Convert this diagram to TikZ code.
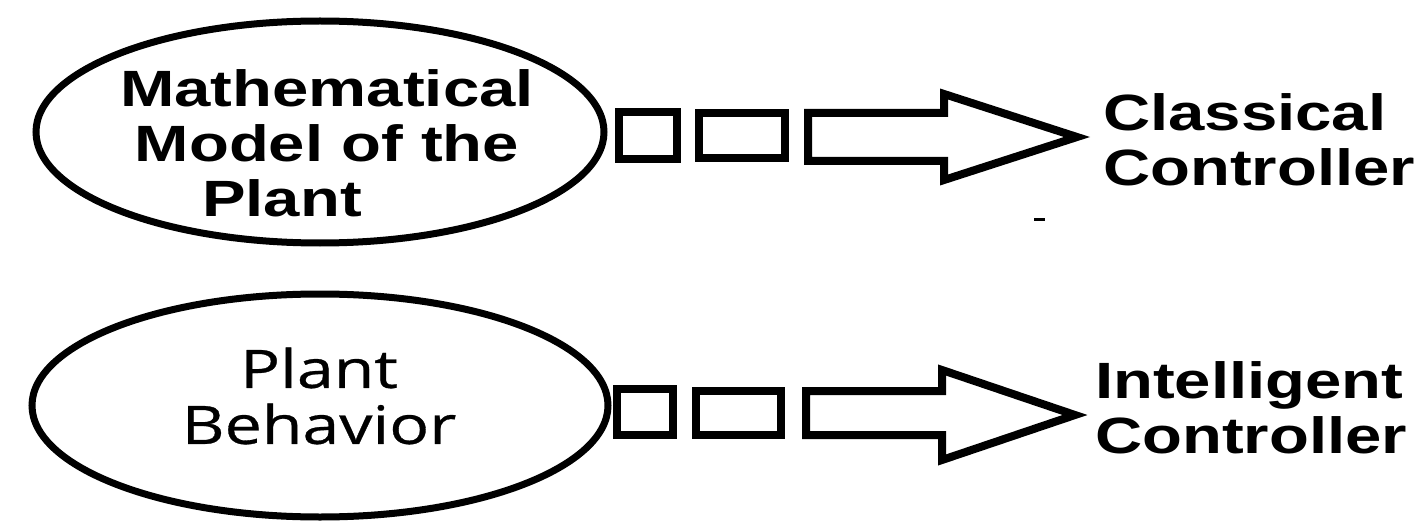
\documentclass[tikz,border=0pt]{standalone}
\usepackage{fontspec}
\usetikzlibrary{shapes.geometric,calc}
\newfontfamily\labelfont[FakeStretch=1.28]{Liberation Sans}
\newfontfamily\plainfont[FakeStretch=1.25,FakeBold=0.6]{Open Sans}

\tikzset{
  outline/.style={draw=black, line width=8pt, fill=white},
  oval/.style={outline, ellipse, inner sep=0pt, line width=7pt},
  boxlink/.style={outline, rectangle, inner sep=0pt},
  blockarrow/.style={outline, line join=miter},
  boldlabel/.style={font=\labelfont\bfseries\fontsize{51}{55}\selectfont, inner sep=0pt},
  softlabel/.style={font=\plainfont\fontsize{53}{56}\selectfont, inner sep=0pt},
}

\begin{document}
\begin{tikzpicture}[x=1pt, y=-1pt]
  \useasboundingbox (0,0) rectangle (1425,524);
  \fill[white] (0,0) rectangle (1425,524);

  % ---- upper row: model-based design ----
  \node[oval, minimum width=568pt, minimum height=222pt] (model) at (320,132) {};
  \node[boldlabel, align=center] (modeltext) at (327,143)
    {Mathematical\\Model of the\\Plant\hspace*{90pt}};
  \node[boxlink, minimum width=58pt, minimum height=47pt] (m1) at (648,135.5) {};
  \node[boxlink, minimum width=86pt, minimum height=45pt] (m2) at (742,135.5) {};
  \coordinate (ms) at (808,137);
  \coordinate (me) at (1077,137);
  \draw[blockarrow] ($(ms)+(0,-24)$) -- ($(me)+(-133,-24)$) -- ($(me)+(-133,-43)$)
    -- (me) -- ($(me)+(-133,43)$) -- ($(me)+(-133,24)$) -- ($(ms)+(0,24)$) -- cycle;
  \node[boldlabel, align=left, anchor=north west] (classical) at (1103,93)
    {Classical\\Controller};
  \draw[line width=3pt] (1034,219) -- (1045,219);

  % ---- lower row: behaviour-based design ----
  \node[oval, minimum width=576pt, minimum height=223pt] (behav) at (320,405.5) {};
  \node[softlabel, align=center] (behavtext) at (319,396)
    {Plant\\Behavior};
  \node[boxlink, minimum width=56pt, minimum height=46pt] (b1) at (645,412) {};
  \node[boxlink, minimum width=85pt, minimum height=44pt] (b2) at (738.5,412.5) {};
  \coordinate (bs) at (806,413);
  \coordinate (be) at (1075,415);
  \draw[blockarrow] ($(bs)+(0,-22)$) -- ($(be)+(-133,-24)$) -- ($(be)+(-133,-45)$)
    -- (be) -- ($(be)+(-133,45)$) -- ($(be)+(-133,20)$) -- ($(bs)+(0,22)$) -- cycle;
  \node[boldlabel, align=left, anchor=north west] (intelligent) at (1095,361)
    {Intelligent\\Controller};
\end{tikzpicture}
\end{document}
